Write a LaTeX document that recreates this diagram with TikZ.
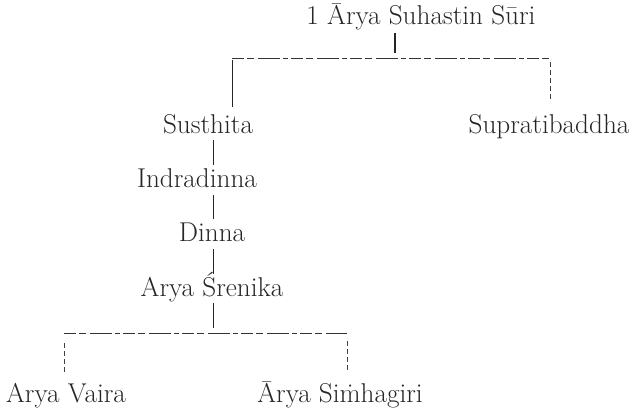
\documentclass[tikz,border=0pt]{standalone}
\newcommand{\mdot}{{\ooalign{m\cr\hidewidth\char"02D9\hidewidth\cr}}}
\begin{document}
\begin{tikzpicture}[x=1pt,y=-1pt,
  lbl/.style={inner sep=0pt, anchor=base, text height=18pt, text depth=6pt,
              font=\fontsize{27.2}{32}\selectfont, text=black!85},
  stem/.style={line width=0.9pt, black!85},
  bar/.style={line width=0.8pt, black!80, dash pattern=on 12pt off 3pt on 7pt off 4pt on 22pt off 3pt on 5pt off 3pt},
  drop/.style={line width=0.6pt, black!75, dash pattern=on 5pt off 3pt}]
\useasboundingbox (0,0) rectangle (636,416);
% labels
\node[lbl] (top) at (421,24) {1 Ārya Suhastin Sūri};
\node[lbl] (sus) at (208,133) {Susthita};
\node[lbl] (sup) at (549,133) {Supratibaddha};
\node[lbl] (ind) at (197,187) {Indradinna};
\node[lbl] (din) at (212,241) {Dinna};
\node[lbl] (sre) at (212,296) {Arya Śrenika};
\node[lbl] (vai) at (66,402) {Arya Vaira};
\node[lbl] (sim) at (340,402) {Ārya Si\mdot hagiri};
% junctions
\coordinate (tb)  at (395,58);
\coordinate (tbL) at (232,58);
\coordinate (tbR) at (550,58);
\coordinate (trunk) at (213,0);
\coordinate (bb)  at (213,333);
\coordinate (bbL) at (64,333);
\coordinate (bbR) at (347,333);
% top family
\draw[stem, line width=1.3pt, shorten <=3pt, shorten >=5pt] (top.south -| tb) -- (tb);
\draw[bar] (tbL) -- (tbR);
\draw[stem, line width=0.7pt, shorten <=2pt, shorten >=8pt] (tbL) -- (sus.north -| tbL);
\draw[drop, shorten <=4pt, shorten >=15pt] (tbR) -- (sup.north -| tbR);
% chain
\draw[stem, shorten <=1pt, shorten >=4pt] (sus.south -| trunk) -- (ind.north -| trunk);
\draw[stem, shorten <=2pt, shorten >=4pt] (ind.south -| trunk) -- (din.north -| trunk);
\draw[stem, shorten <=2pt, shorten >=4pt] (din.south -| trunk) -- (sre.north -| trunk);
\draw[stem, shorten <=1pt, shorten >=5pt] (sre.south -| trunk) -- (bb);
% bottom family
\draw[bar] (bbL) -- (bbR);
\draw[drop, shorten <=10pt, shorten >=12pt] (bbL) -- (vai.north -| bbL);
\draw[drop, shorten <=8pt, shorten >=12pt] (bbR) -- (sim.north -| bbR);
\end{tikzpicture}
\end{document}
